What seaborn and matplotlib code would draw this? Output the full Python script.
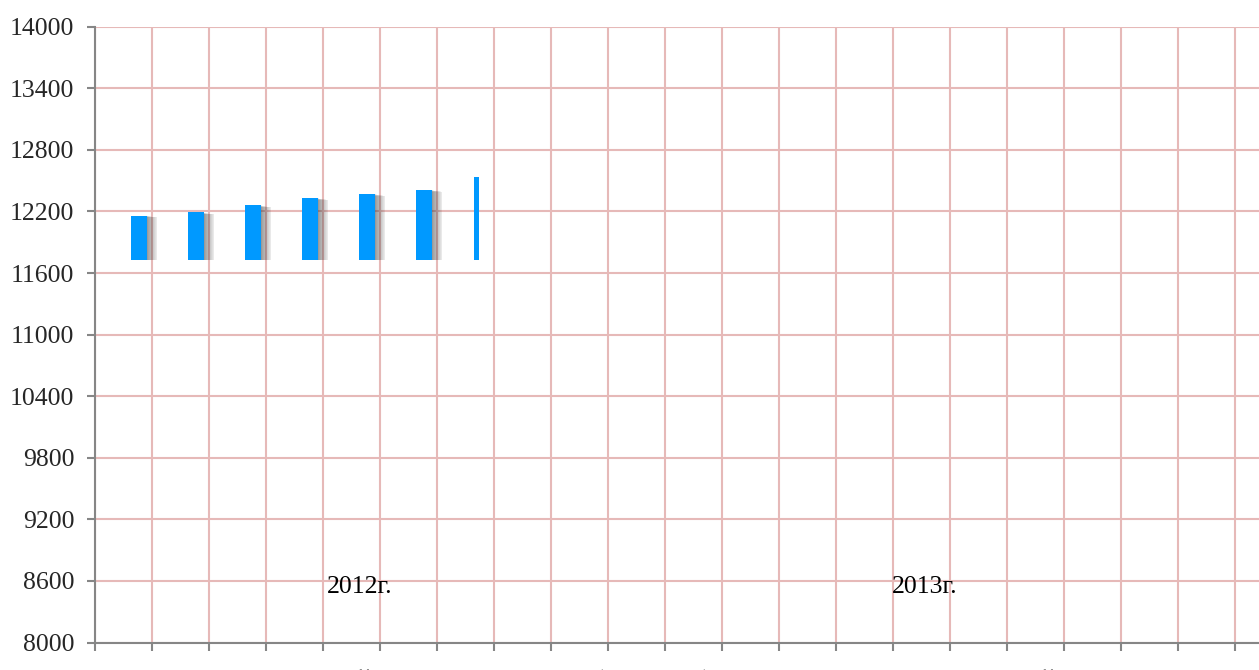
import numpy as np
import pandas as pd
import seaborn as sns
import matplotlib.pyplot as plt

# данные
months = ['январь', 'февраль', 'март', 'апрель', 'май', 'июнь',
          'июль', 'август', 'сентябрь', 'октябрь', 'ноябрь', 'декабрь']
labels = months + months[:9]          # 2012 полностью + 2013 (видимая часть)
values = [12160, 12190, 12260, 12330, 12370, 12410, 12540]
base = 11730
y_ticks = list(range(8000, 14001, 600))
year_labels = ['2012г.', '2013г.']
year_pos = [4.15, 14.06]

sns.set_style('white')
plt.rcParams['font.family'] = ['Liberation Serif', 'DejaVu Serif']

fig = plt.figure(figsize=(12.59, 6.70), dpi=100)
ax = fig.add_axes([95 / 1259, 27.5 / 670, 57 * len(labels) / 1259, 615.8 / 670])

df = pd.DataFrame({'pos': np.arange(len(values)) + 0.269,
                   'h': np.array(values) - base})
df.loc[6, 'pos'] = 6.196
main = df.iloc[:6]
thin = df.iloc[6:]

# размытая тень справа от столбцов
for k in range(1, 13):
    sh = main.assign(pos=main['pos'] + k * 0.9 / 57, h=main['h'] - k * 1.5)
    sns.barplot(data=sh, x='pos', y='h', native_scale=True, width=0.275,
                bottom=base, color='#3a3a3a', alpha=0.055, errorbar=None,
                ax=ax, zorder=2, linewidth=0)

sns.barplot(data=main, x='pos', y='h', native_scale=True, width=0.275,
            bottom=base, color='#0099FF', errorbar=None, ax=ax, zorder=3,
            linewidth=0, saturation=1)
sns.barplot(data=thin, x='pos', y='h', native_scale=True, width=0.093,
            bottom=base, color='#0099FF', errorbar=None, ax=ax, zorder=3,
            linewidth=0, saturation=1)

ax.set_xlim(-0.5, len(labels) - 0.5)
ax.set_ylim(8000, 14000)
ax.set_yticks(y_ticks)
ax.set_yticklabels([str(v) for v in y_ticks])

# подписи в два ряда (второй ряд уходит за край)
ax.set_xticks(np.arange(len(labels)))
ax.set_xticklabels([lab if i % 2 == 0 else '\n' + lab for i, lab in enumerate(labels)])
ax.set_xticks(np.arange(len(labels) + 1) - 0.5, minor=True)
ax.set_xlabel('')
ax.set_ylabel('')

grid_c = '#E6B9B8'
axis_c = '#868686'
ax.grid(True, axis='y', which='major', color=grid_c, linewidth=1.5, zorder=0)
ax.grid(True, axis='x', which='minor', color=grid_c, linewidth=1.5, zorder=0)
ax.grid(False, axis='x', which='major')
ax.set_axisbelow(True)

for s in ['top', 'right']:
    ax.spines[s].set_visible(False)
for s in ['left', 'bottom']:
    ax.spines[s].set_color(axis_c)
    ax.spines[s].set_linewidth(1.5)
    ax.spines[s].set_zorder(4)

ax.tick_params(axis='y', which='major', direction='out', length=6, width=1.5,
               color=axis_c, labelsize=18.5, pad=9, left=True)
ax.tick_params(axis='x', which='major', length=0, labelsize=18.5, pad=19.5)
ax.tick_params(axis='x', which='minor', direction='out', length=5.5, width=1.5,
               color=axis_c, bottom=True)

for t, p in zip(year_labels, year_pos):
    ax.text(p, 8482, t, ha='center', va='baseline', fontsize=18.5, color='black')

fig.savefig('out.png', dpi=100)
